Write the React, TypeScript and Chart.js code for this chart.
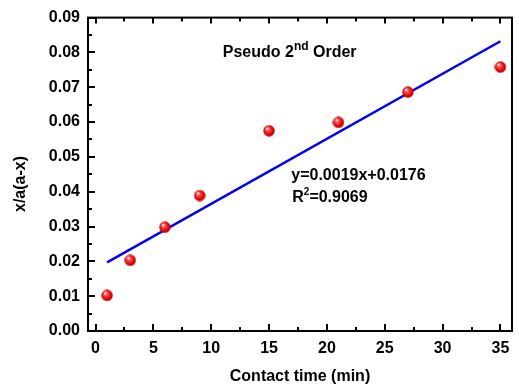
import React, { useEffect, useRef } from "react";
import { Chart, registerables } from "chart.js";

Chart.register(...registerables);

const contactTime = [1, 3, 6, 9, 15, 21, 27, 35];
const xaValues = [0.0102, 0.0203, 0.0298, 0.0389, 0.0575, 0.0599, 0.0686, 0.0758];
const fitTime = [1, 35];
const fitValues = [0.0197, 0.0832];
const xTickValues = [0, 5, 10, 15, 20, 25, 30, 35];
const yTickValues = [0, 0.01, 0.02, 0.03, 0.04, 0.05, 0.06, 0.07, 0.08, 0.09];
const titleText = "Pseudo 2";
const titleSup = "nd";
const titleRest = " Order";
const eqText = "y=0.0019x+0.0176";
const r2Value = "=0.9069";

const FONT = '"Liberation Sans", Arial, sans-serif';

function makeSphere(): HTMLCanvasElement {
  const s = 12;
  const c = document.createElement("canvas");
  c.width = s;
  c.height = s;
  const g = c.getContext("2d")!;
  const r = s / 2;
  const grad = g.createRadialGradient(r - 2, r - 2.5, 0.5, r, r, r);
  grad.addColorStop(0, "#ffffff");
  grad.addColorStop(0.25, "#ff5050");
  grad.addColorStop(0.7, "#ee0000");
  grad.addColorStop(1, "#a00000");
  g.fillStyle = grad;
  g.beginPath();
  g.arc(r, r, r - 0.3, 0, Math.PI * 2);
  g.fill();
  return c;
}

const framePlugin = {
  id: "frameAndText",
  afterDraw(chart: any) {
    const { ctx, chartArea } = chart;
    const { left, right, top, bottom } = chartArea;
    const x = chart.scales.x;
    const y = chart.scales.y;
    ctx.save();
    ctx.strokeStyle = "#000";
    ctx.lineWidth = 2;
    ctx.strokeRect(left, top, right - left, bottom - top);
    ctx.beginPath();
    xTickValues.forEach((v) => {
      const px = Math.round(x.getPixelForValue(v));
      ctx.moveTo(px, bottom);
      ctx.lineTo(px, bottom - 7);
      ctx.moveTo(px, top);
      ctx.lineTo(px, top + 6);
      const mv = v + 2.5;
      if (mv < x.max) {
        const mx = Math.round(x.getPixelForValue(mv));
        ctx.moveTo(mx, bottom);
        ctx.lineTo(mx, bottom - 4);
        ctx.moveTo(mx, top);
        ctx.lineTo(mx, top + 4);
      }
    });
    yTickValues.forEach((v) => {
      const py = Math.round(y.getPixelForValue(v));
      ctx.moveTo(left, py);
      ctx.lineTo(left + 7, py);
      const mv = v + 0.005;
      if (mv < y.max) {
        const my = Math.round(y.getPixelForValue(mv));
        ctx.moveTo(left, my);
        ctx.lineTo(left + 4, my);
      }
    });
    ctx.stroke();

    ctx.fillStyle = "#000";
    ctx.textBaseline = "alphabetic";
    ctx.textAlign = "left";
    let tx = x.getPixelForValue(11.0);
    const ty = y.getPixelForValue(0.0786);
    ctx.font = `bold 16px ${FONT}`;
    ctx.fillText(titleText, tx, ty);
    tx += ctx.measureText(titleText).width;
    ctx.font = `bold 12px ${FONT}`;
    ctx.fillText(titleSup, tx, ty - 7);
    tx += ctx.measureText(titleSup).width;
    ctx.font = `bold 16px ${FONT}`;
    ctx.fillText(titleRest, tx, ty);

    const ex = x.getPixelForValue(16.92);
    ctx.fillText(eqText, ex, y.getPixelForValue(0.0433));
    const ry = y.getPixelForValue(0.037);
    let rx = ex + 1;
    ctx.fillText("R", rx, ry);
    rx += ctx.measureText("R").width;
    ctx.font = `bold 10px ${FONT}`;
    ctx.fillText("2", rx, ry - 7);
    rx += ctx.measureText("2").width;
    ctx.font = `bold 16px ${FONT}`;
    ctx.fillText(r2Value, rx, ry);

    ctx.save();
    ctx.translate(25, 184);
    ctx.rotate(-Math.PI / 2);
    ctx.textAlign = "center";
    ctx.font = `bold 16px ${FONT}`;
    ctx.fillText("x/a(a-x)", 0, 0);
    ctx.restore();
    ctx.restore();
  },
};

export default function App() {
  const ref = useRef<HTMLCanvasElement>(null);
  useEffect(() => {
    document.body.style.margin = "0";
    const sphere = makeSphere();
    const chart = new Chart(ref.current!, {
      type: "scatter",
      data: {
        datasets: [
          {
            type: "line",
            data: fitTime.map((t, i) => ({ x: t, y: fitValues[i] })),
            borderColor: "#0000ff",
            borderWidth: 2.5,
            pointRadius: 0,
            fill: false,
            order: 2,
          } as any,
          {
            data: contactTime.map((t, i) => ({ x: t, y: xaValues[i] })),
            pointStyle: sphere,
            pointRadius: 6,
            order: 1,
          },
        ],
      },
      options: {
        animation: false,
        responsive: false,
        devicePixelRatio: 1,
        layout: { padding: { top: 15, right: 2, left: 0, bottom: 0 } },
        plugins: { legend: { display: false }, tooltip: { enabled: false } },
        scales: {
          x: {
            type: "linear",
            min: -0.65,
            max: 36,
            grid: { display: false, tickLength: 0 },
            border: { display: false },
            afterBuildTicks: (s: any) => {
              s.ticks = xTickValues.map((v) => ({ value: v }));
            },
            afterFit: (s: any) => {
              s.height = 56;
            },
            ticks: {
              color: "#000",
              font: { family: FONT, size: 16, weight: "bold" },
              padding: 8,
              maxRotation: 0,
            },
            title: {
              display: true,
              text: "Contact time (min)",
              color: "#000",
              font: { family: FONT, size: 16, weight: "bold" },
              padding: { top: 0, bottom: 1 },
            },
          },
          y: {
            type: "linear",
            min: 0,
            max: 0.09,
            grid: { display: false, tickLength: 0 },
            border: { display: false },
            afterBuildTicks: (s: any) => {
              s.ticks = yTickValues.map((v) => ({ value: v }));
            },
            afterFit: (s: any) => {
              s.width = 88;
            },
            ticks: {
              color: "#000",
              font: { family: FONT, size: 16, weight: "bold" },
              padding: 8,
              callback: (v: any) => Number(v).toFixed(2),
            },
          },
        },
      },
      plugins: [framePlugin],
    });
    return () => chart.destroy();
  }, []);
  return (
    <div style={{ width: 519, height: 387 }}>
      <canvas ref={ref} width={519} height={387} style={{ display: "block" }} />
    </div>
  );
}
